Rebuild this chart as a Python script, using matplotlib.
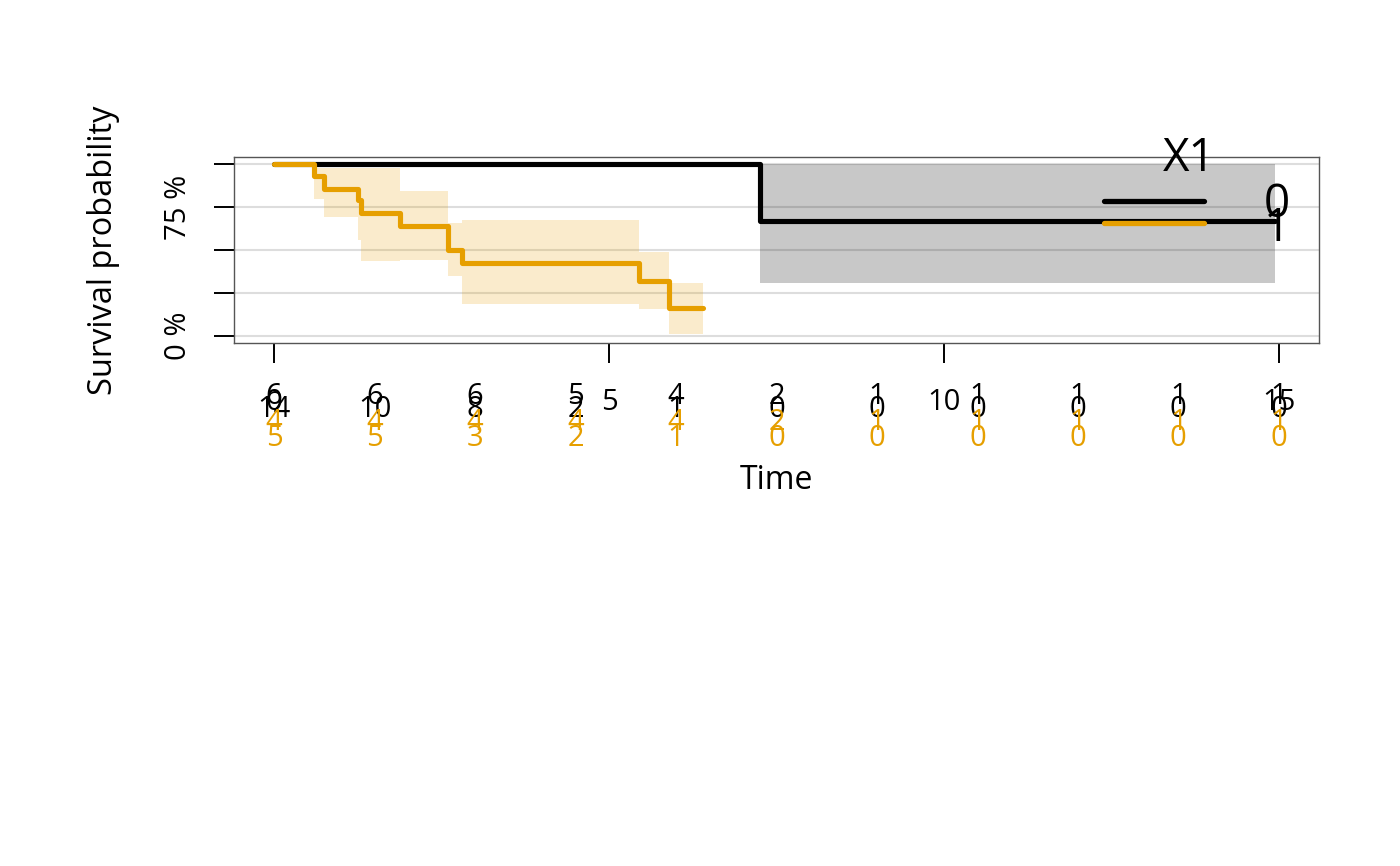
import numpy as np
import matplotlib
matplotlib.use("Agg")
import matplotlib.pyplot as plt

plt.rcParams['font.family'] = ['Open Sans', 'DejaVu Sans']

# group 0 (black)
times0 = [0, 7.25, 14.95]
surv0 = [1.0, 0.667, 0.667]
upper0 = [1.0, 1.0, 1.0]
lower0 = [1.0, 0.308, 0.308]

# group 1 (orange)
times1 = [0, 0.6, 0.74, 1.247, 1.30, 1.88, 2.59, 2.80, 5.44, 5.89, 6.41]
surv1 = [1.0, 0.932, 0.855, 0.788, 0.714, 0.641, 0.502, 0.425, 0.319, 0.160, 0.160]
upper1 = [1.0, 0.977, 0.977, 0.977, 0.977, 0.844, 0.656, 0.674, 0.486, 0.311, 0.311]
lower1 = [1.0, 0.797, 0.689, 0.56, 0.434, 0.44, 0.346, 0.185, 0.156, 0.01, 0.01]

# risk table
risk_times = [0, 1.5, 3, 4.5, 6, 7.5, 9, 10.5, 12, 13.5, 15]
row_a = [6, 6, 6, 5, 4, 2, 1, 1, 1, 1, 1]
row_b = [14, 10, 8, 2, 1, 0, 0, 0, 0, 0, 0]
row_c = [4, 4, 4, 4, 4, 2, 1, 1, 1, 1, 1]
row_d = [5, 5, 3, 2, 1, 0, 0, 0, 0, 0, 0]

xticks = [0, 5, 10, 15]
yticks = [0, 0.25, 0.5, 0.75, 1.0]
ytick_labels = ['0 %', '', '', '75 %', '']

black = '#000000'
orange = '#E69F00'

fig = plt.figure(figsize=(14, 8.66), dpi=100)
ax = fig.add_axes([234 / 1400, 1 - 343 / 866, (1319 - 234) / 1400, (343 - 157) / 866])

for y in yticks:
    ax.axhline(y, color='#dddddd', lw=1.5, zorder=0)

ax.fill_between(times0, lower0, upper0, step='post', color=black, alpha=0.215, lw=0, zorder=1)
ax.fill_between(times1, lower1, upper1, step='post', color=orange, alpha=0.2, lw=0, zorder=1)

ax.plot(times0, surv0, drawstyle='steps-post', color=black, lw=3.7,
        solid_capstyle='round', solid_joinstyle='round', zorder=3)
ax.plot(times1, surv1, drawstyle='steps-post', color=orange, lw=3.7,
        solid_capstyle='round', solid_joinstyle='round', zorder=4)

ax.set_xlim(-0.6, 15.6)
ax.set_ylim(-0.0407, 1.0407)

ax.set_xticks(xticks)
ax.set_xticklabels([str(t) for t in xticks])
ax.set_yticks(yticks)
ax.set_yticklabels(ytick_labels, rotation=90, va='center')
ax.tick_params(axis='both', length=14.4, width=1.4, labelsize=21)
ax.tick_params(axis='x', pad=18)
ax.tick_params(axis='y', pad=15)

for s in ax.spines.values():
    s.set_color('#555555')
    s.set_linewidth(1)

ax.set_xlabel('Time', fontsize=23, labelpad=34)
ax.set_ylabel('Survival probability', fontsize=23.5, labelpad=32)

# legend drawn by hand
ax.plot([0.802, 0.894], [0.763, 0.763], transform=ax.transAxes, color=black, lw=3.8,
        solid_capstyle='round', clip_on=False, zorder=5)
ax.plot([0.802, 0.894], [0.645, 0.645], transform=ax.transAxes, color=orange, lw=3.8,
        solid_capstyle='round', clip_on=False, zorder=5)
ax.text(0.880, 0.99, 'X1', transform=ax.transAxes, fontsize=33, ha='center', va='center', zorder=6)
ax.text(0.961, 0.74, '0', transform=ax.transAxes, fontsize=33, ha='center', va='center', zorder=6)
ax.text(0.961, 0.615, '1', transform=ax.transAxes, fontsize=33, ha='center', va='center', zorder=6)

# number-at-risk rows below the axis
tr = ax.get_xaxis_transform()
rows = [(row_a, black, -0.290), (row_b, black, -0.360), (row_c, orange, -0.425), (row_d, orange, -0.516)]
for vals, col, yy in rows:
    for t, v in zip(risk_times, vals):
        ax.text(t, yy, str(v), transform=tr, color=col, fontsize=21,
                ha='center', va='center', clip_on=False)

fig.savefig('out.png', dpi=100)
